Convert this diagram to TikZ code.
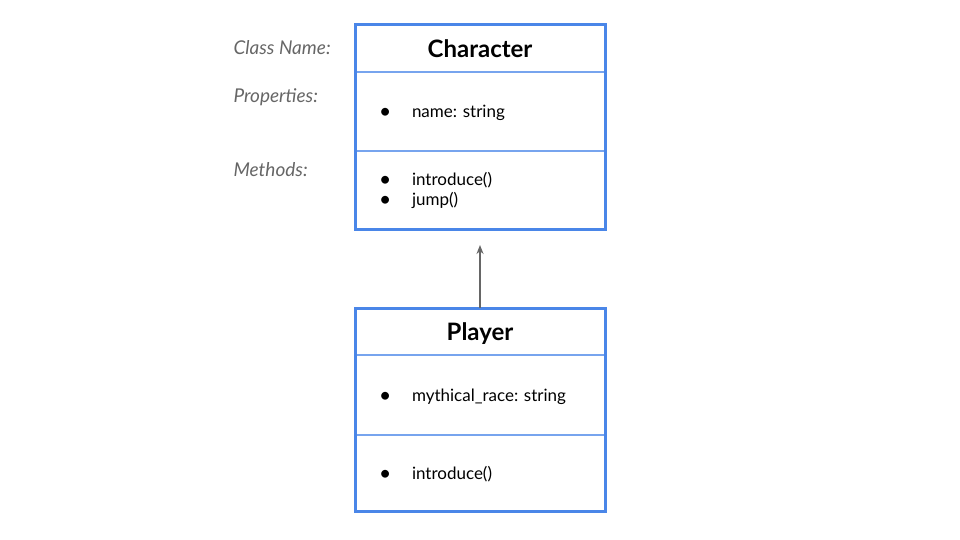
\documentclass[tikz,border=0pt]{standalone}
\usepackage{fontspec}
\setmainfont{Lato}
\frenchspacing
\usetikzlibrary{positioning}
\usetikzlibrary{arrows.meta}
\definecolor{umlblue}{HTML}{4A86E8}
\definecolor{notegray}{HTML}{666666}
\newcommand{\bul}[1]{\makebox[33pt][l]{\raisebox{-1pt}{\fontsize{21}{20}\selectfont\textbullet}}#1}

\begin{document}
\begin{tikzpicture}[x=1pt,y=-1pt,
    part/.style={draw=umlblue!75,line width=1.4pt,minimum width=250pt,inner sep=0pt,outer sep=0pt},
    classname/.style={part,minimum height=47pt,text depth=0pt,font=\bfseries\fontsize{24}{26}\selectfont},
    members/.style={part,align=left,text width=202pt,inner xsep=24pt,font=\fontsize{17}{20}\selectfont},
    member/.style={members,text depth=0pt},
    frame/.style={draw=umlblue,line width=3pt},
    note/.style={anchor=west,text=notegray,font=\itshape\fontsize{19}{21}\selectfont}]
    \useasboundingbox (0,0) rectangle (960,540);
    % class Character
    \node[classname] (chartitle) at (480,48.5) {Character};
    \node[member,minimum height=79pt,below=0pt of chartitle] (charprops) {\bul{name: string}};
    \node[members,minimum height=78pt,below=0pt of charprops] (charmeth) {\bul{introduce()}\\ \bul{jump()}};
    \draw[frame] (chartitle.north west) rectangle (charmeth.south east);
    % class Player
    \node[classname] (plytitle) at (480,331.5) {Player};
    \node[member,minimum height=80pt,below=0pt of plytitle] (plyprops) {\bul{mythical\_race: string}};
    \node[member,minimum height=76pt,below=0pt of plyprops] (plymeth) {\bul{introduce()}};
    \draw[frame] (plytitle.north west) rectangle (plymeth.south east);
    % notes
    \node[note] (notename) at (230,48) {Class Name:};
    \node[note] (noteprops) at (230,97) {Properties:};
    \node[note] (notemeth) at (230,170) {Methods:};
    % inheritance
    \draw[-{Stealth[length=9pt,width=7pt]},notegray,line width=1.6pt,shorten >=16pt] (plytitle.north) -- (charmeth.south);
  \end{tikzpicture}
\end{document}
